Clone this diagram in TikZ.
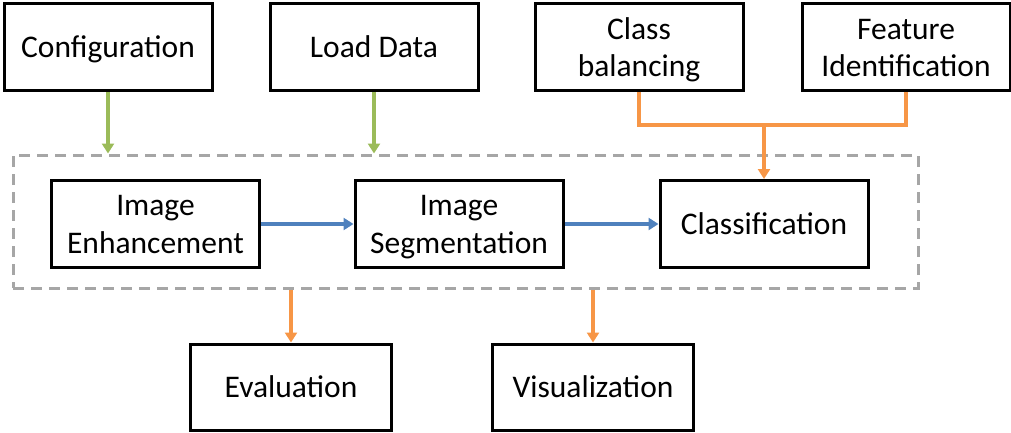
\documentclass[tikz,border=0pt]{standalone}
\usepackage{fontspec}
\setmainfont{Carlito}
\usetikzlibrary{arrows.meta}
\definecolor{cgreen}{HTML}{9BBB59}
\definecolor{corange}{HTML}{F79646}
\definecolor{cblue}{HTML}{4F81BD}
\definecolor{cgray}{HTML}{A6A6A6}
\newcommand\mystrut{\rule[-8pt]{0pt}{37pt}}
\begin{document}
\begin{tikzpicture}[x=1pt,y=-1pt,
  box/.style={draw=black,line width=3pt,minimum width=208pt,minimum height=87pt,align=center,inner sep=0pt,
    font=\fontsize{31.5}{37.5}\selectfont},
  grpbox/.style={draw=cgray,line width=3pt,dash pattern=on 11pt off 7pt,minimum width=905pt,minimum height=133pt,inner sep=0pt},
  arr/.style={-{Triangle[width=12pt,length=10pt]}},
  gline/.style={line width=3.4pt,draw=cgreen},
  oline/.style={line width=3.4pt,draw=corange},
  bline/.style={line width=3.4pt,draw=cblue}]
\useasboundingbox (0,0) rectangle (1011,433);
\node[grpbox] (grp) at (465.5,221.5) {};
\node[box] (cfg) at (108,47.5) {\mystrut Configuration};
\node[box] (ld) at (374,47.5) {\mystrut Load Data};
\node[box] (cb) at (639,47.5) {\mystrut Class\\\mystrut balancing};
\node[box] (fi) at (906,47.5) {\mystrut Feature\\\mystrut Identification};
\node[box] (ie) at (155.5,224) {\mystrut Image\\\mystrut Enhancement};
\node[box] (is) at (459,224) {\mystrut Image\\\mystrut Segmentation};
\node[box] (cl) at (764,224) {\mystrut Classification};
\node[box,minimum width=201pt,minimum height=86pt] (ev) at (291,387) {\mystrut Evaluation};
\node[box,minimum width=201pt,minimum height=86pt] (vi) at (593,387) {\mystrut Visualization};
\draw[gline,arr] (cfg.south) -- (cfg.south |- grp.north);
\draw[gline,arr] (ld.south) -- (ld.south |- grp.north);
\coordinate (j) at (cl.north |- 0,125);
\draw[oline,line join=miter] (cb.south) |- (j) -| (fi.south);
\draw[oline,arr] (j) -- (cl.north);
\draw[bline,arr] (ie.east) -- (is.west);
\draw[bline,arr] (is.east) -- (cl.west);
\draw[oline,arr] (ev.north |- grp.south) -- (ev.north);
\draw[oline,arr] (vi.north |- grp.south) -- (vi.north);
\end{tikzpicture}
\end{document}
